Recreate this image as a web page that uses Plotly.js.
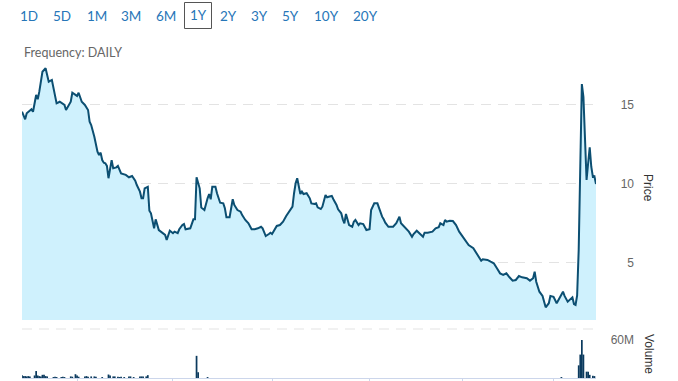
<!DOCTYPE html>
<html>
<head>
<meta charset="utf-8">
<script src="https://cdn.plot.ly/plotly-3.0.1.min.js"></script>
<style>html,body{margin:0;padding:0;background:#fff;}#chart{width:678px;height:381px;}</style>
</head>
<body>
<div id="chart"></div>
<script>
// ---- data (day offsets within the 1-year window, prices) ----
const priceDays = [0,2,3,6,7,9,10,11,13,15,16,17,19,20,21,22,24,26,27,28,29,31,32,34,35,36,38,40,42,43,44,46,48,49,50,51,52,53,54,55,57,58,60,61,63,66,68,70,72,73,75,76,77,78,80,81,82,84,85,87,89,91,92,94,96,97,99,100,102,103,104,106,107,109,110,111,113,114,116,118,119,120,121,123,124,126,128,129,130,132,133,134,135,137,139,140,142,144,146,148,150,152,153,155,157,158,159,161,162,164,166,168,170,172,173,174,175,176,177,178,179,181,183,184,186,187,188,190,191,193,194,195,197,198,200,201,203,204,205,206,208,210,211,212,214,215,217,219,221,222,224,226,227,229,230,231,233,236,238,240,241,244,246,248,249,251,253,255,256,258,261,263,265,266,268,269,270,272,274,276,278,281,284,287,289,290,292,293,296,298,300,302,304,306,308,310,312,314,316,318,321,323,325,326,327,329,331,333,335,336,338,340,342,344,345,347,350,351,352,353,354,355,356,357,358,359,360,361,362,363,364,365];
const prices = [14.53,14.05,14.43,14.68,14.53,15.59,15.32,15.8,17.06,17.28,16.85,16.43,16.54,16.01,15.48,15.06,15.16,15.06,14.96,14.64,14.85,15.16,15.73,15.59,15.53,15.73,15.16,14.96,14.64,13.9,13.69,12.95,12.0,11.79,11.94,11.47,11.3,11.27,11.1,10.32,11.47,10.95,11.01,11.1,10.63,10.53,10.38,10.46,10.16,9.89,9.47,9.05,9.05,9.68,9.78,8.27,8.1,7.15,7.72,7.04,6.87,6.73,6.41,7.0,6.84,6.94,6.84,7.09,7.36,7.42,7.09,7.15,7.15,7.72,7.72,10.38,9.68,8.47,8.31,9.05,9.32,8.99,9.78,9.78,9.37,8.77,8.73,8.42,7.85,7.85,8.52,8.99,8.63,8.31,8.2,7.99,7.68,7.47,7.09,7.09,7.15,7.25,7.15,6.66,6.79,6.87,6.79,7.09,7.3,7.36,7.57,7.93,8.2,8.52,9.37,10.0,10.32,9.68,9.32,9.47,9.32,9.37,9.05,8.73,8.69,8.73,8.48,8.37,8.52,9.26,9.11,9.15,9.2,8.99,8.63,8.35,8.1,7.72,7.47,8.06,7.36,7.25,7.57,7.68,7.36,7.47,7.42,7.04,7.09,8.31,8.73,8.73,8.42,7.89,7.72,7.51,7.25,7.25,7.47,7.89,7.47,7.15,6.94,6.62,6.79,7.0,6.84,6.62,6.87,6.87,6.94,7.15,7.22,7.47,7.36,7.68,7.57,7.63,7.61,7.36,6.94,6.52,6.09,5.89,5.57,5.4,5.1,5.19,5.15,5.04,4.94,4.62,4.3,4.2,4.3,4.05,3.84,3.88,4.13,4.05,3.99,3.84,3.99,4.41,3.77,3.14,2.87,2.15,2.41,2.87,2.82,2.41,2.78,3.14,2.87,2.51,2.78,2.36,2.3,2.9,5.8,11.0,16.28,15.48,12.53,10.21,11.27,12.28,11.05,10.42,10.45,9.96];

const volumeDays = [0,1,2,3,4,5,8,9,10,11,12,13,14,15,16,20,21,22,25,26,27,31,32,34,35,36,40,41,42,44,46,47,51,55,56,58,59,61,62,63,65,68,69,71,75,76,77,79,80,111,112,118,343,354,355,356,357,359,360,361,363,364];
const volumes = [4.5,3,3,2.5,3,2.5,4,11,4,3,2.5,5,5,3,2.5,1.5,2,1.5,1.5,2,1.5,2.5,2,6,4,2,2.5,3,2,2.5,2.5,2,1.5,5.5,4,2.5,2.5,2,1.5,2,1.5,2.5,2.5,1.5,2.5,2.5,2.5,2.5,4.5,35,9,1.5,1.5,20,37,60,37,10,10,5,3.5,3].map(v => v * 1e6);

const rangeButtons = ['1D','5D','1M','3M','6M','1Y','2Y','3Y','5Y','10Y','20Y'];
const activeButton = '1Y';
const frequencyLabel = 'Frequency: DAILY';
const priceTicks = [5, 10, 15];
const volumeTicks = [60e6];
const volumeTickText = ['60M'];
const dateTicks = [35, 96, 159, 221, 280, 338];

// ---- layout helpers (pixel -> paper) ----
const L = 22, T = 62, B = 3, W = 678, H = 381;
const plotW = W - L, plotH = H - T - B, bottomPx = H - B;
const px = x => (x - L) / plotW;
const py = y => (bottomPx - y) / plotH;

const buttonCenters = [29, 62, 97, 131, 166, 198, 228, 259, 290, 326, 365];
const annotations = rangeButtons.map((b, i) => ({
  text: b, xref: 'paper', yref: 'paper', x: px(buttonCenters[i]), y: py(b === activeButton ? 14.5 : 15.5),
  xanchor: 'center', yanchor: 'middle', showarrow: false,
  font: {family: 'Lato, sans-serif', size: 13.5, color: '#2776b8'}
}));
annotations.push({text: frequencyLabel, xref: 'paper', yref: 'paper', x: px(22), y: py(52),
  xanchor: 'left', yanchor: 'middle', showarrow: false,
  font: {family: 'Lato, sans-serif', size: 12.5, color: '#666666'}});
annotations.push({text: 'Price', xref: 'paper', yref: 'paper', x: px(648), y: py(188), textangle: 90,
  xanchor: 'center', yanchor: 'middle', showarrow: false,
  font: {family: 'Liberation Sans, Arial, sans-serif', size: 12, color: '#333333'}});
annotations.push({text: 'Volume', xref: 'paper', yref: 'paper', x: px(649), y: py(354), textangle: 90,
  xanchor: 'center', yanchor: 'middle', showarrow: false,
  font: {family: 'Liberation Sans, Arial, sans-serif', size: 12, color: '#333333'}});

const xEnd = px(596);
const priceBottom = py(320);
const volTop = py(329);

const traces = [
  {x: priceDays, y: prices, type: 'scatter', mode: 'lines', fill: 'tozeroy',
   fillcolor: '#cff1fd', line: {color: '#0c4f72', width: 2}, xaxis: 'x', yaxis: 'y', hoverinfo: 'skip'},
  {x: volumeDays, y: volumes, type: 'bar', width: 1.1, marker: {color: '#0b3a5e', line: {width: 0}},
   xaxis: 'x', yaxis: 'y2', hoverinfo: 'skip'}
];

const tickFont = {family: 'Liberation Sans, Arial, sans-serif', size: 12, color: '#666666'};
const layout = {
  width: W, height: H, margin: {l: L, r: 0, t: T, b: B},
  paper_bgcolor: '#ffffff', plot_bgcolor: '#ffffff', showlegend: false,
  xaxis: {domain: [0, xEnd], range: [0, 365], anchor: 'y2', showgrid: false, zeroline: false,
    showline: true, linecolor: '#ccd6eb', linewidth: 1, ticks: 'outside', ticklen: 10, tickcolor: '#ccd6eb',
    tickvals: dateTicks, showticklabels: false, fixedrange: true},
  yaxis: {domain: [priceBottom, 1], range: [1.348, 17.677], anchor: 'free', position: px(634), side: 'left',
    tickvals: priceTicks, showgrid: true, gridcolor: '#e3e3e3', griddash: '10px,7px', gridwidth: 1,
    zeroline: false, showline: false, ticks: '', tickfont: tickFont},
  yaxis2: {domain: [0, volTop], range: [0, 77.4e6], anchor: 'free', position: px(634), side: 'left',
    tickvals: volumeTicks, ticktext: volumeTickText, showgrid: false, zeroline: false, showline: false,
    ticks: '', tickfont: tickFont},
  shapes: [
    {type: 'line', xref: 'paper', yref: 'paper', x0: 0, x1: xEnd, y0: volTop, y1: volTop,
     line: {color: '#e3e3e3', width: 1, dash: '10px,7px'}},
    {type: 'rect', xref: 'paper', yref: 'paper', x0: px(184.5), x1: px(211.5), y0: py(28.5), y1: py(2.5),
     line: {color: '#555555', width: 1}}
  ],
  annotations: annotations
};

Plotly.newPlot('chart', traces, layout, {displayModeBar: false, staticPlot: true});
</script>
</body>
</html>
